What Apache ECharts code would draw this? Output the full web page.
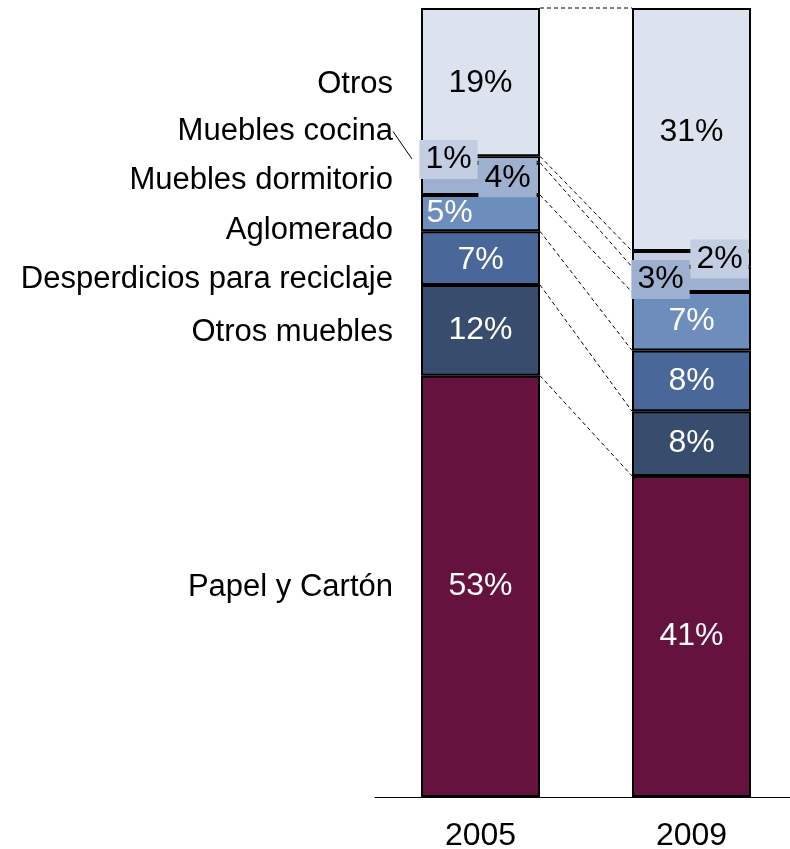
<!DOCTYPE html>
<html>
<head>
<meta charset="utf-8">
<script src="https://cdn.jsdelivr.net/npm/echarts@6/dist/echarts.min.js"></script>
<style>
  html, body { margin: 0; padding: 0; background: #fff; }
  #chart { width: 790px; height: 849px; }
</style>
</head>
<body>
<div id="chart"></div>
<script>
// datos (de abajo hacia arriba)
const categories = ['2005', '2009']
const seriesNames = ['Papel y Cartón', 'Otros muebles', 'Desperdicios para reciclaje', 'Aglomerado', 'Muebles dormitorio', 'Muebles cocina', 'Otros']
const values2005 = [53.4, 11.5, 6.8, 4.6, 4.1, 0.8, 18.8]
const values2009 = [40.7, 8.2, 7.7, 7.4, 3.2, 2.0, 30.8]
const labels2005 = ['53%', '12%', '7%', '5%', '4%', '1%', '19%']
const labels2009 = ['41%', '8%', '8%', '7%', '3%', '2%', '31%']

// estilos
const colors = ['#66123E', '#384C6D', '#4A6799', '#6D8DBC', '#9DB0D0', '#C4CEE2', '#DDE3EE']
const textColors = ['#fff', '#fff', '#fff', '#fff', '#000', '#000', '#000']
const boxed = [false, false, false, false, true, true, false]
const offsets2005 = [[0, 0], [0, 0], [0, 2], [-31, 0], [27, -1], [-32, 0], [0, 1]]
const offsets2009 = [[0, 0], [0, 0], [0, 0], [0, 0], [-31, 0], [28, 0], [0, 3]]
const nameDy = [1, 2, 21, 17, 2, -28, 2]
const barW = 119
const font = "'Liberation Sans', Arial, sans-serif"

const chart = echarts.init(document.getElementById('chart'))

const cumulative = vals => {
  let s = 0
  return vals.map(v => (s += v))
}
const cum05 = cumulative(values2005)
const cum09 = cumulative(values2009)
const centers05 = values2005.map((v, i) => cum05[i] - v / 2)

const pctLabel = (text, i, offset) => ({
  show: true,
  position: 'inside',
  formatter: text,
  offset: offset,
  color: textColors[i],
  fontSize: 32,
  fontFamily: font,
  lineHeight: 31,
  backgroundColor: boxed[i] ? colors[i] : 'transparent',
  padding: boxed[i] ? [4, 6] : 0
})

const barSeries = seriesNames.map((name, i) => ({
  name,
  type: 'bar',
  stack: 'total',
  barWidth: barW,
  itemStyle: { color: colors[i], borderColor: '#000', borderWidth: 2 },
  data: [
    { value: values2005[i], label: pctLabel(labels2005[i], i, offsets2005[i]) },
    { value: values2009[i], label: pctLabel(labels2009[i], i, offsets2009[i]) }
  ],
  z: 2
}))

// líneas punteadas entre barras
const connectors = {
  type: 'custom',
  silent: true,
  encode: { x: 0, y: 1 },
  data: cum05.map((c, i) => [0, c, cum09[i]]),
  renderItem: (params, api) => {
    const p1 = api.coord([0, api.value(1)])
    const p2 = api.coord([1, api.value(2)])
    return {
      type: 'line',
      shape: { x1: p1[0] + barW / 2, y1: p1[1], x2: p2[0] - barW / 2, y2: p2[1] },
      style: { stroke: '#000', lineWidth: 1, lineDash: [4, 3] }
    }
  },
  z: 1
}

// nombres a la izquierda
const names = {
  type: 'scatter',
  silent: true,
  symbol: 'rect',
  symbolSize: [1, 1],
  symbolOffset: [-68, 0],
  itemStyle: { color: '#fff', opacity: 1 },
  label: {
    show: true,
    position: 'left',
    distance: 19,
    formatter: p => seriesNames[p.dataIndex],
    color: '#000',
    opacity: 1,
    textBorderWidth: 0,
    fontSize: 31,
    fontFamily: font
  },
  labelLayout: p => ({ dy: nameDy[p.dataIndex] }),
  data: centers05.map((c, i) => ({
    value: [0, c],
    labelLine: { show: i === 5, lineStyle: { color: '#000', width: 1, opacity: 1 } }
  })),
  z: 3
}

const option = {
  animation: false,
  grid: { left: 375, width: 422, top: 8, bottom: 52, outerBoundsMode: 'none' },
  xAxis: {
    type: 'category',
    data: categories,
    axisLine: { lineStyle: { color: '#000', width: 1 } },
    axisTick: { show: false },
    axisLabel: { color: '#000', fontSize: 32, fontFamily: font, margin: 23 }
  },
  yAxis: { type: 'value', min: 0, max: 100, show: false },
  series: [...barSeries, connectors, names]
}

chart.setOption(option)
</script>
</body>
</html>
